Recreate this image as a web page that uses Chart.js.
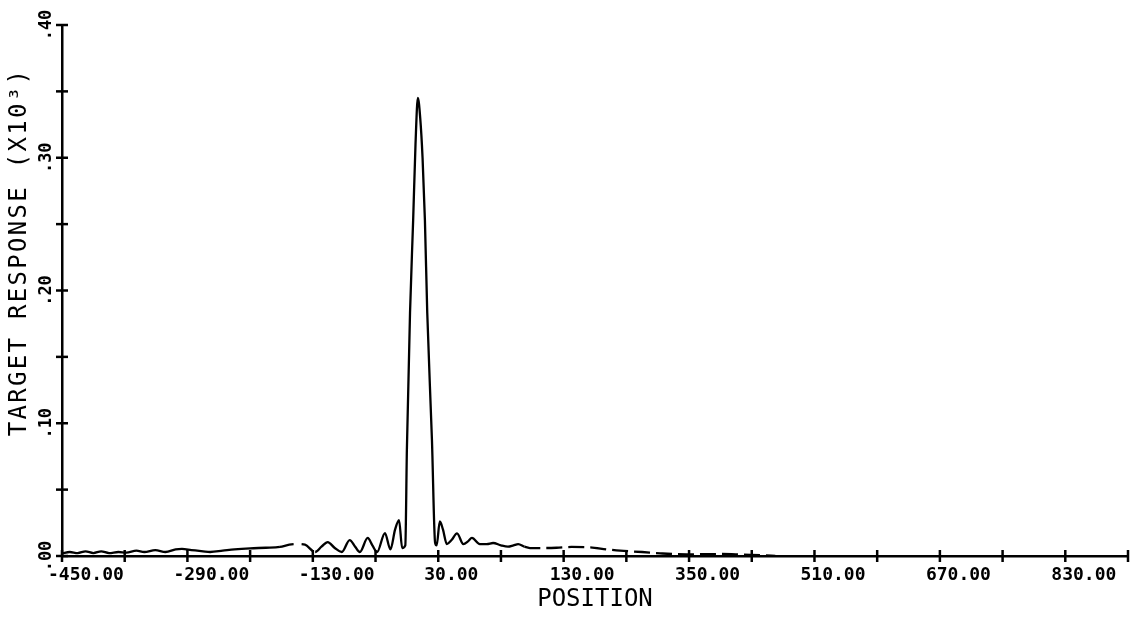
<!DOCTYPE html>
<html>
<head>
<meta charset="utf-8">
<script src="https://cdn.jsdelivr.net/npm/chart.js@4/dist/chart.umd.min.js"></script>
<style>
  html, body { margin: 0; padding: 0; background: #ffffff; }
  #wrap { width: 1131px; height: 621px; position: relative; }
</style>
</head>
<body>
<div id="wrap"><canvas id="c" width="1131" height="621"></canvas></div>
<script>
// ---- data ----
const positions = [
  -450, -440, -430, -420, -410, -400, -390, -378, -368, -355, -345, -331, -318, -305, -297,
  -285, -270, -261, -245, -230, -210, -190, -172, -160, -150, -140, -127, -119, -111, -102,
  -93, -83, -76, -70, -60, -54, -48, -38, -31, -25, -20, -16, -12, -10, -6, -2, 1, 4, 7,
  10, 13, 16, 22, 26, 28, 32, 36, 41, 47, 54, 62, 68, 73, 83, 92, 100, 110, 119, 126, 132,
  140, 147, 165, 181, 200, 224, 245, 262, 290, 313, 347, 390, 420, 445, 460
];
const response = [
  0.0020, 0.0030, 0.0022, 0.0035, 0.0022, 0.0035, 0.0022, 0.0030, 0.0025, 0.0040, 0.0030, 0.0045, 0.0030, 0.0050, 0.0053,
  0.0045, 0.0035, 0.0030, 0.0040, 0.0050, 0.0058, 0.0062, 0.0068, 0.0085, 0.0090, 0.0085, 0.0030, 0.0070, 0.0105, 0.0060,
  0.0030, 0.0120, 0.0070, 0.0030, 0.0136, 0.0080, 0.0030, 0.0173, 0.0050, 0.0200, 0.0270, 0.0060, 0.0080, 0.0800, 0.1830, 0.2530, 0.3100, 0.3450, 0.3300,
  0.3000, 0.2530, 0.1830, 0.0870, 0.0100, 0.0080, 0.0260, 0.0200, 0.0090, 0.0120, 0.0170, 0.0090, 0.0110, 0.0136, 0.0090, 0.0090, 0.0098, 0.0080, 0.0070, 0.0080, 0.0090,
  0.0070, 0.0060, 0.0060, 0.0062, 0.0068, 0.0065, 0.0050, 0.0040, 0.0030, 0.0020, 0.0012, 0.0015, 0.0010, 0.0006, 0.0000
];
const xTickValues = [-450, -290, -130, 30, 190, 350, 510, 670, 830];
const xTickLabels = ["-450.00", "-290.00", "-130.00", "30.00", "130.00", "350.00", "510.00", "670.00", "830.00"];
const yTickValues = [0, 0.1, 0.2, 0.3, 0.4];
const yTickLabels = [".00", ".10", ".20", ".30", ".40"];
const xTitle = "POSITION";
const yTitle = "TARGET RESPONSE (X10³)";

const points = positions.map((p, i) => ({ x: p, y: response[i] }));
const INK = '#000000';
const MONO = "'DejaVu Sans Mono', monospace";

const axisDecor = {
  id: 'axisDecor',
  afterDraw(chart) {
    const ctx = chart.ctx;
    const xs = chart.scales.x, ys = chart.scales.y;
    const area = chart.chartArea;
    ctx.save();
    ctx.strokeStyle = INK;
    ctx.lineWidth = 2.5;
    // crossing tick marks on x axis
    xs.ticks.forEach(t => {
      const px = xs.getPixelForValue(t.value);
      ctx.beginPath();
      ctx.moveTo(px, area.bottom - 6);
      ctx.lineTo(px, area.bottom + 6);
      ctx.stroke();
    });
    // crossing tick marks on y axis
    ys.ticks.forEach(t => {
      const py = ys.getPixelForValue(t.value);
      ctx.beginPath();
      ctx.moveTo(area.left - 6, py);
      ctx.lineTo(area.left + 6, py);
      ctx.stroke();
    });
    // rotated y tick labels
    ctx.fillStyle = INK;
    ctx.font = 'bold 17px ' + MONO;
    ctx.textAlign = 'center';
    ctx.textBaseline = 'middle';
    yTickValues.forEach((v, i) => {
      const py = ys.getPixelForValue(v);
      ctx.save();
      ctx.translate(area.left - 15, py);
      ctx.rotate(-Math.PI / 2);
      ctx.fillText(yTickLabels[i], 0, 0);
      ctx.restore();
    });
    // y title
    ctx.save();
    ctx.font = '24px ' + MONO;
    ctx.letterSpacing = '2.3px';
    ctx.translate(20, 252);
    ctx.rotate(-Math.PI / 2);
    ctx.fillText(yTitle, 0, 0);
    ctx.restore();
    ctx.restore();
  }
};

new Chart(document.getElementById('c'), {
  type: 'line',
  data: {
    datasets: [{
      data: points,
      borderColor: INK,
      borderWidth: 2.3,
      pointRadius: 0,
      fill: false,
      cubicInterpolationMode: 'monotone',
      segment: {
        borderDash: ctx => {
          const x0 = ctx.p0.parsed.x;
          if (x0 >= 140 && x0 < 460) return [16, 6];
          if (x0 >= -175 && x0 < -138) return [14, 8];
          return undefined;
        }
      }
    }]
  },
  options: {
    responsive: false,
    animation: false,
    devicePixelRatio: 1,
    layout: { padding: { left: 62, right: 3, top: 25, bottom: 9 } },
    plugins: { legend: { display: false }, tooltip: { enabled: false } },
    scales: {
      x: {
        type: 'linear',
        min: -450,
        max: 910,
        grid: { display: false, drawTicks: true, tickLength: 10 },
        border: { display: true, color: INK, width: 2.5 },
        ticks: {
          stepSize: 80,
          autoSkip: false,
          maxRotation: 0,
          minRotation: 0,
          align: 'start',
          labelOffset: -14,
          padding: 0,
          color: INK,
          font: { family: MONO, size: 18, weight: 'bold', lineHeight: 1 },
          callback: v => {
            const i = xTickValues.indexOf(v);
            return i >= 0 ? xTickLabels[i] : '';
          }
        },
        title: {
          display: true,
          text: xTitle,
          color: INK,
          padding: { top: 4, bottom: 0 },
          font: { family: MONO, size: 24, lineHeight: 1 }
        }
      },
      y: {
        type: 'linear',
        min: 0,
        max: 0.4,
        grid: { display: false, drawTicks: false },
        border: { display: true, color: INK, width: 2.5 },
        ticks: { display: false, stepSize: 0.05 }
      }
    }
  },
  plugins: [axisDecor]
});
</script>
</body>
</html>
